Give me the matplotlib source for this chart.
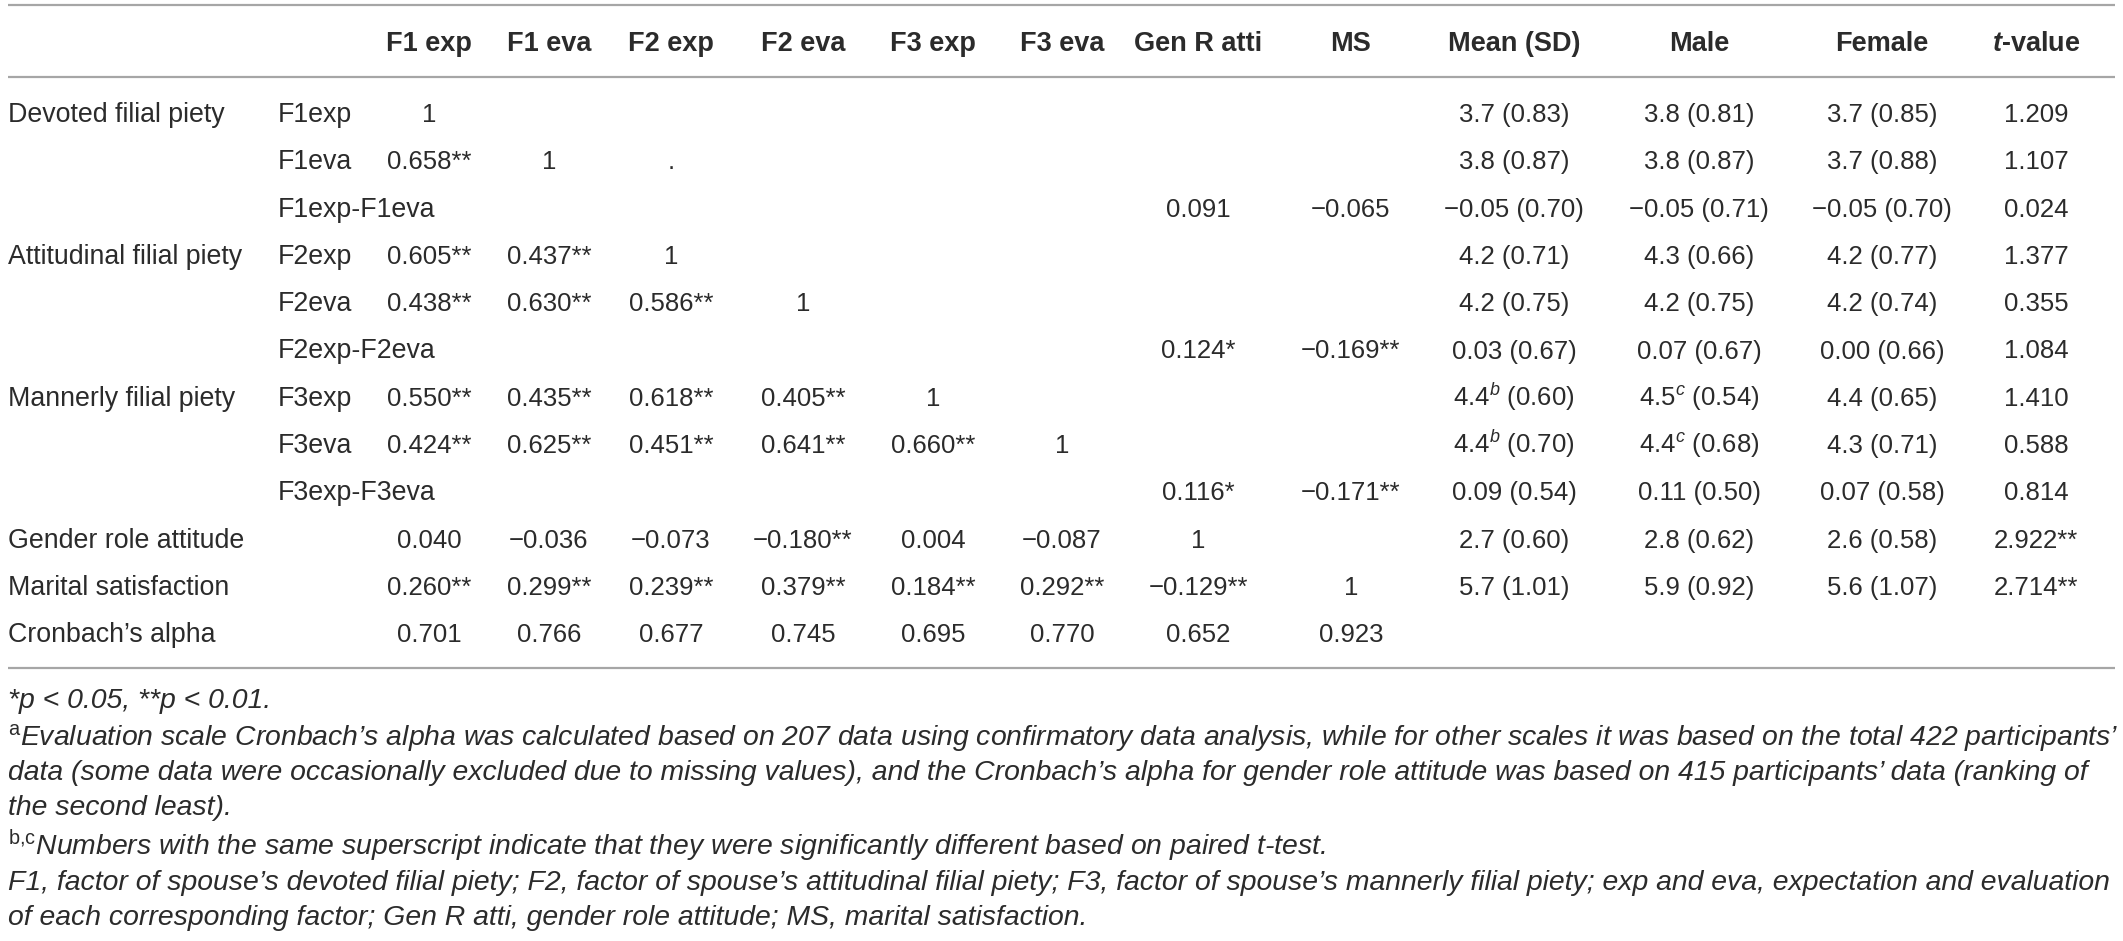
import matplotlib
matplotlib.use('Agg')
import matplotlib.pyplot as plt

plt.rcParams['font.family'] = ['Liberation Sans', 'DejaVu Sans']
plt.rcParams['mathtext.fontset'] = 'custom'
plt.rcParams['mathtext.rm'] = 'Liberation Sans'
plt.rcParams['mathtext.it'] = 'Liberation Sans:italic'
plt.rcParams['mathtext.bf'] = 'Liberation Sans:bold'
plt.rcParams['mathtext.bfit'] = 'Liberation Sans:italic:bold'

# table content
columns = ["F1 exp", "F1 eva", "F2 exp", "F2 eva", "F3 exp", "F3 eva",
           "Gen R atti", "MS", "Mean (SD)", "Male", "Female", r"$\mathbfit{t}$-value"]

groups = ["Devoted filial piety", "", "", "Attitudinal filial piety", "", "",
          "Mannerly filial piety", "", "", "Gender role attitude",
          "Marital satisfaction", "Cronbach’s alpha"]

variables = ["F1exp", "F1eva", "F1exp-F1eva", "F2exp", "F2eva", "F2exp-F2eva",
             "F3exp", "F3eva", "F3exp-F3eva", "", "", ""]

corr = [
    ["1", "", "", "", "", "", "", ""],
    ["0.658**", "1", ".", "", "", "", "", ""],
    ["", "", "", "", "", "", "0.091", "−0.065"],
    ["0.605**", "0.437**", "1", "", "", "", "", ""],
    ["0.438**", "0.630**", "0.586**", "1", "", "", "", ""],
    ["", "", "", "", "", "", "0.124*", "−0.169**"],
    ["0.550**", "0.435**", "0.618**", "0.405**", "1", "", "", ""],
    ["0.424**", "0.625**", "0.451**", "0.641**", "0.660**", "1", "", ""],
    ["", "", "", "", "", "", "0.116*", "−0.171**"],
    ["0.040", "−0.036", "−0.073", "−0.180**", "0.004", "−0.087", "1", ""],
    ["0.260**", "0.299**", "0.239**", "0.379**", "0.184**", "0.292**", "−0.129**", "1"],
    ["0.701", "0.766", "0.677", "0.745", "0.695", "0.770", "0.652", "0.923"],
]

mean_sd = ["3.7 (0.83)", "3.8 (0.87)", "−0.05 (0.70)", "4.2 (0.71)", "4.2 (0.75)",
           "0.03 (0.67)", r"4.4$^{\it{b}}$ (0.60)", r"4.4$^{\it{b}}$ (0.70)", "0.09 (0.54)",
           "2.7 (0.60)", "5.7 (1.01)", ""]
male = ["3.8 (0.81)", "3.8 (0.87)", "−0.05 (0.71)", "4.3 (0.66)", "4.2 (0.75)",
        "0.07 (0.67)", r"4.5$^{\it{c}}$ (0.54)", r"4.4$^{\it{c}}$ (0.68)", "0.11 (0.50)",
        "2.8 (0.62)", "5.9 (0.92)", ""]
female = ["3.7 (0.85)", "3.7 (0.88)", "−0.05 (0.70)", "4.2 (0.77)", "4.2 (0.74)",
          "0.00 (0.66)", "4.4 (0.65)", "4.3 (0.71)", "0.07 (0.58)",
          "2.6 (0.58)", "5.6 (1.07)", ""]
t_value = ["1.209", "1.107", "0.024", "1.377", "0.355", "1.084", "1.410", "0.588",
           "0.814", "2.922**", "2.714**", ""]

notes = [
    "*p < 0.05, **p < 0.01.",
    r"$^{\rm a}$Evaluation scale Cronbach’s alpha was calculated based on 207 data using confirmatory data analysis, while for other scales it was based on the total 422 participants’",
    "data (some data were occasionally excluded due to missing values), and the Cronbach’s alpha for gender role attitude was based on 415 participants’ data (ranking of",
    "the second least).",
    r"$^{\rm b{,}c}$Numbers with the same superscript indicate that they were significantly different based on paired t-test.",
    "F1, factor of spouse’s devoted filial piety; F2, factor of spouse’s attitudinal filial piety; F3, factor of spouse’s mannerly filial piety; exp and eva, expectation and evaluation",
    "of each corresponding factor; Gen R atti, gender role attitude; MS, marital satisfaction.",
]

# layout (pixel coords)
W, H = 2123, 941
col_x = [429, 549, 671, 803, 933, 1062, 1198, 1351, 1514, 1699, 1882, 2036]
header_y = 42
row_y0, row_step = 113, 47.3
note_y = [700, 737, 772, 807, 847, 882, 917]
txt = '#2b2b2b'
line_c = '#a6a6a6'
fs = 18.5
base = 9

fig = plt.figure(figsize=(W / 100, H / 100), dpi=100)
ax = fig.add_axes([0, 0, 1, 1])
ax.set_xlim(0, W)
ax.set_ylim(H, 0)
ax.set_axis_off()

for yl in (5, 77, 668):
    ax.plot([8, 2115], [yl, yl], color=line_c, lw=1.6, solid_capstyle='butt')

for x, c in zip(col_x, columns):
    ax.text(x, header_y + base, c, ha='center', va='baseline', fontsize=19.5,
            fontweight='bold', color=txt)

for i in range(len(groups)):
    y = row_y0 + i * row_step + base
    ax.text(8, y, groups[i], ha='left', va='baseline', fontsize=fs + 0.8, color=txt)
    ax.text(278, y, variables[i], ha='left', va='baseline', fontsize=fs + 0.8, color=txt)
    cells = corr[i] + [mean_sd[i], male[i], female[i], t_value[i]]
    for x, v in zip(col_x, cells):
        if v:
            ax.text(x, y, v, ha='center', va='baseline', fontsize=fs, color=txt)

for y, n in zip(note_y, notes):
    ax.text(8, y + 8, n, ha='left', va='baseline', fontsize=20.4,
            style='italic', color=txt)

fig.savefig('out.png', dpi=100, facecolor='white')
